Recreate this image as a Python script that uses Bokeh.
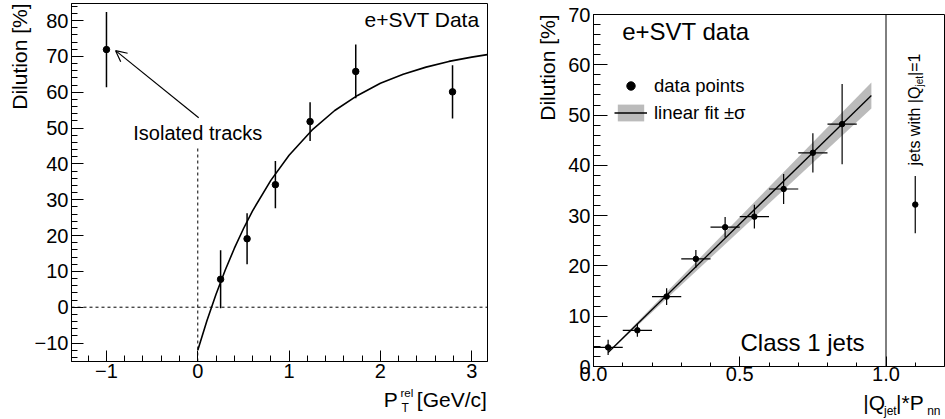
import math
from bokeh.plotting import figure
from bokeh.layouts import row, column
from bokeh.models import (Range1d, FixedTicker, Span, Label, Arrow, OpenHead,
                          Legend, LegendItem, CustomJSTickFormatter)
from bokeh.embed import file_html
from bokeh.resources import INLINE

FONT = "Liberation Sans"

# ---------------- data: left panel (dilution vs pT_rel) ----------------
ptrel_x = [-1.0, 0.25, 0.54, 0.85, 1.23, 1.73, 2.79]
ptrel_dil = [71.9, 7.8, 19.1, 34.2, 51.8, 65.8, 60.1]
ptrel_err = [10.5, 8.1, 7.1, 6.6, 5.4, 7.5, 7.4]

curve_x = [0.0, 0.1, 0.2, 0.3, 0.4, 0.5, 0.6, 0.8, 1.0, 1.25, 1.5, 1.75,
           2.0, 2.25, 2.5, 2.75, 3.0, 3.17]
curve_y = [-12.0, -3.8, 3.6, 10.3, 16.4, 21.9, 26.9, 35.4, 42.4, 49.4, 54.9,
           59.1, 62.5, 65.0, 67.0, 68.6, 69.8, 70.5]

left_yticks = [-10, 0, 10, 20, 30, 40, 50, 60, 70, 80]
left_yminor = list(range(-14, 86, 2))
left_xticks = [-1, 0, 1, 2, 3]
left_xminor = [-1.2, -0.8, -0.6, -0.4, -0.2, 0.2, 0.4, 0.6, 0.8, 1.2, 1.4, 1.6,
               1.8, 2.2, 2.4, 2.6, 2.8]

iso_guide_top = 45.0          # top of the vertical dashed guide at pT_rel = 0
arrow_tail = (0.01, 52.9)
arrow_head = (-0.90, 71.6)

# ---------------- data: right panel (dilution vs |Q|*Pnn) ----------------
qp_x = [0.05, 0.15, 0.25, 0.35, 0.45, 0.55, 0.65, 0.75, 0.85]
qp_xerr = [0.05, 0.05, 0.05, 0.05, 0.05, 0.05, 0.05, 0.05, 0.05]
qp_dil = [3.8, 7.2, 13.9, 21.4, 27.7, 29.8, 35.3, 42.5, 48.2]
qp_err = [1.5, 1.3, 1.65, 1.75, 2.05, 2.35, 3.0, 3.9, 8.0]

q1_x = [1.1]
q1_dil = [32.2]
q1_err = [5.7]

fit_x = [0.05, 0.95]
fit_y = [2.8, 53.9]
band_lo = [2.7, 51.3]
band_hi = [2.9, 56.5]

right_yticks = [0, 10, 20, 30, 40, 50, 60, 70]
right_yminor = list(range(0, 72, 2))
right_xticks = [0.0, 0.5, 1.0]
right_xminor = [0.1, 0.2, 0.3, 0.4, 0.6, 0.7, 0.8, 0.9, 1.1]


def style_axes(p, xt, xm, yt, ym, xtick_in, xminor_in, ytick_in, yminor_in,
               xstand, ystand, size="20px"):
    p.xaxis.ticker = FixedTicker(ticks=xt, minor_ticks=xm)
    p.yaxis.ticker = FixedTicker(ticks=yt, minor_ticks=ym)
    for ax in (p.xaxis[0], p.yaxis[0]):
        ax.axis_line_color = "black"
        ax.major_tick_line_color = "black"
        ax.minor_tick_line_color = "black"
        ax.major_tick_out = 0
        ax.minor_tick_out = 0
        ax.major_label_text_font = FONT
        ax.major_label_text_font_size = size
        ax.major_label_text_color = "black"
    p.xaxis.major_tick_in = xtick_in
    p.xaxis.minor_tick_in = xminor_in
    p.yaxis.major_tick_in = ytick_in
    p.yaxis.minor_tick_in = yminor_in
    p.xaxis.major_label_standoff = xstand
    p.yaxis.major_label_standoff = ystand
    p.xgrid.visible = False
    p.ygrid.visible = False
    p.outline_line_color = "black"
    p.outline_line_width = 1
    p.outline_line_alpha = 1.0


def side_title(p, text, standoff):
    # the y-axis title, rotated on the left and aligned to the top end
    t = p.title
    t.text = text
    t.align = "right"
    t.text_font = FONT
    t.text_font_size = "21px"
    t.text_font_style = "normal"
    t.text_color = "black"
    t.standoff = standoff


def lab(p, text, x, y, size, units="screen", align="left", angle=0.0,
        baseline="alphabetic"):
    p.add_layout(Label(text=text, x=x, y=y, x_units=units, y_units=units,
                       text_font=FONT, text_font_size=size, text_color="black",
                       text_align=align, text_baseline=baseline, angle=angle))


def text_strip(width, height, left, right):
    s = figure(width=width, height=height, output_backend="svg",
               toolbar_location=None, x_range=Range1d(0, 1), y_range=Range1d(0, 1),
               min_border_left=left, min_border_right=right,
               min_border_top=0, min_border_bottom=0,
               x_axis_location=None, y_axis_location=None,
               background_fill_color="white", border_fill_color="white")
    s.outline_line_color = None
    s.xgrid.visible = False
    s.ygrid.visible = False
    return s


# ======================= LEFT PANEL =======================
L_LEFT, L_RIGHT = 71, 13
p1 = figure(width=500, height=386, output_backend="svg", toolbar_location=None,
            x_range=Range1d(-1.383, 3.173), y_range=Range1d(-15.15, 84.76),
            min_border_left=L_LEFT, min_border_right=L_RIGHT, min_border_top=3,
            min_border_bottom=25, background_fill_color="white",
            border_fill_color="white", title_location="left")
style_axes(p1, left_xticks, left_xminor, left_yticks, left_yminor,
           11, 6, 12, 6, 2, 3)
side_title(p1, "Dilution [%]", 1)

p1.add_layout(Span(location=0, dimension="width", line_color="black",
                   line_width=1, line_dash="3 3"))
p1.segment(x0=[0.0], y0=[-15.15], x1=[0.0], y1=[iso_guide_top],
           line_color="black", line_width=1, line_dash="3 3")

p1.line(curve_x, curve_y, line_color="black", line_width=1.6)

lo1 = [v - e for v, e in zip(ptrel_dil, ptrel_err)]
hi1 = [v + e for v, e in zip(ptrel_dil, ptrel_err)]
p1.segment(x0=ptrel_x, y0=lo1, x1=ptrel_x, y1=hi1, line_color="black",
           line_width=1.5)
p1.scatter(ptrel_x, ptrel_dil, size=6.5, color="black")

p1.add_layout(Arrow(end=OpenHead(size=11, line_width=1.2, line_color="black"),
                    x_start=arrow_tail[0], y_start=arrow_tail[1],
                    x_end=arrow_head[0], y_end=arrow_head[1],
                    line_color="black", line_width=1.2))

lab(p1, "Isolated tracks", 0.0, 48.7, "20px", units="data", align="center")
lab(p1, "e+SVT Data", 408, 342.4, "21px", align="right")

# x-axis title strip below the left panel: P_T^rel [GeV/c]
h1 = text_strip(500, 33, L_LEFT, L_RIGHT)
lab(h1, "P", 383.3 - L_LEFT, 19.7, "21px")
lab(h1, "rel", 400 - L_LEFT, 27, "11.5px")
lab(h1, "T", 401 - L_LEFT, 11.5, "12px")
lab(h1, "[GeV/c]", 416.3 - L_LEFT, 19.7, "21px")

# ======================= RIGHT PANEL =======================
R_LEFT, R_RIGHT = 93, 1
p2 = figure(width=445, height=389, output_backend="svg", toolbar_location=None,
            x_range=Range1d(0.0, 1.2), y_range=Range1d(0.0, 70.0),
            min_border_left=R_LEFT, min_border_right=R_RIGHT, min_border_top=14,
            min_border_bottom=23, background_fill_color="white",
            border_fill_color="white", title_location="left")
style_axes(p2, right_xticks, right_xminor, right_yticks, right_yminor,
           10, 4, 14, 7, 0, 3)
p2.xaxis.formatter = CustomJSTickFormatter(code="return tick.toFixed(1);")
side_title(p2, "Dilution [%]", 13)

band = p2.varea(x=fit_x, y1=band_lo, y2=band_hi, fill_color="#bbbbbb",
                fill_alpha=1.0)
fit = p2.line(fit_x, fit_y, line_color="black", line_width=1.3)

p2.add_layout(Span(location=1.0, dimension="height", line_color="black",
                   line_width=1))

xl = [x - e for x, e in zip(qp_x, qp_xerr)]
xh = [x + e for x, e in zip(qp_x, qp_xerr)]
yl = [v - e for v, e in zip(qp_dil, qp_err)]
yh = [v + e for v, e in zip(qp_dil, qp_err)]
p2.segment(x0=xl, y0=qp_dil, x1=xh, y1=qp_dil, line_color="black", line_width=1.2)
p2.segment(x0=qp_x, y0=yl, x1=qp_x, y1=yh, line_color="black", line_width=1.2)
pts = p2.scatter(qp_x, qp_dil, size=5.5, color="black")

ql = [v - e for v, e in zip(q1_dil, q1_err)]
qh = [v + e for v, e in zip(q1_dil, q1_err)]
p2.segment(x0=q1_x, y0=ql, x1=q1_x, y1=qh, line_color="black", line_width=1.2)
p2.scatter(q1_x, q1_dil, size=5.5, color="black")

legend = Legend(items=[LegendItem(label="data points", renderers=[pts]),
                       LegendItem(label="linear fit \u00b1\u03c3",
                                  renderers=[band, fit])],
                location=(21, 242.5), padding=0, margin=0, spacing=5,
                glyph_width=33, glyph_height=21, label_height=21,
                label_standoff=7, label_text_font=FONT,
                label_text_font_size="18.5px", label_text_color="black",
                border_line_alpha=0, background_fill_alpha=0)
p2.add_layout(legend)

lab(p2, "e+SVT data", 28.7, 335.4, "24px")
lab(p2, "Class 1 jets", 147, 24.4, "24px")

# rotated side note for |Q_jet| = 1 jets
lab(p2, "jets with |Q", 320.9, 201, "16px", angle=math.pi / 2)
lab(p2, "jet", 326, 280, "10px", angle=math.pi / 2)
lab(p2, "|=1", 320.9, 290.6, "16px", angle=math.pi / 2)

# x-axis title strip below the right panel: |Q_jet|*P_nn
h2 = text_strip(445, 30, R_LEFT, R_RIGHT)
lab(h2, "|Q", 862.7 - 500 - R_LEFT, 17.4, "21px")
lab(h2, "jet", 883.5 - 500 - R_LEFT, 8.7, "12px")
lab(h2, "|*P", 895.5 - 500 - R_LEFT, 17.4, "21px")
lab(h2, "nn", 926.7 - 500 - R_LEFT, 8.7, "12px")

layout = row(column(p1, h1), column(p2, h2))
open("out.html", "w").write(file_html(layout, INLINE))
